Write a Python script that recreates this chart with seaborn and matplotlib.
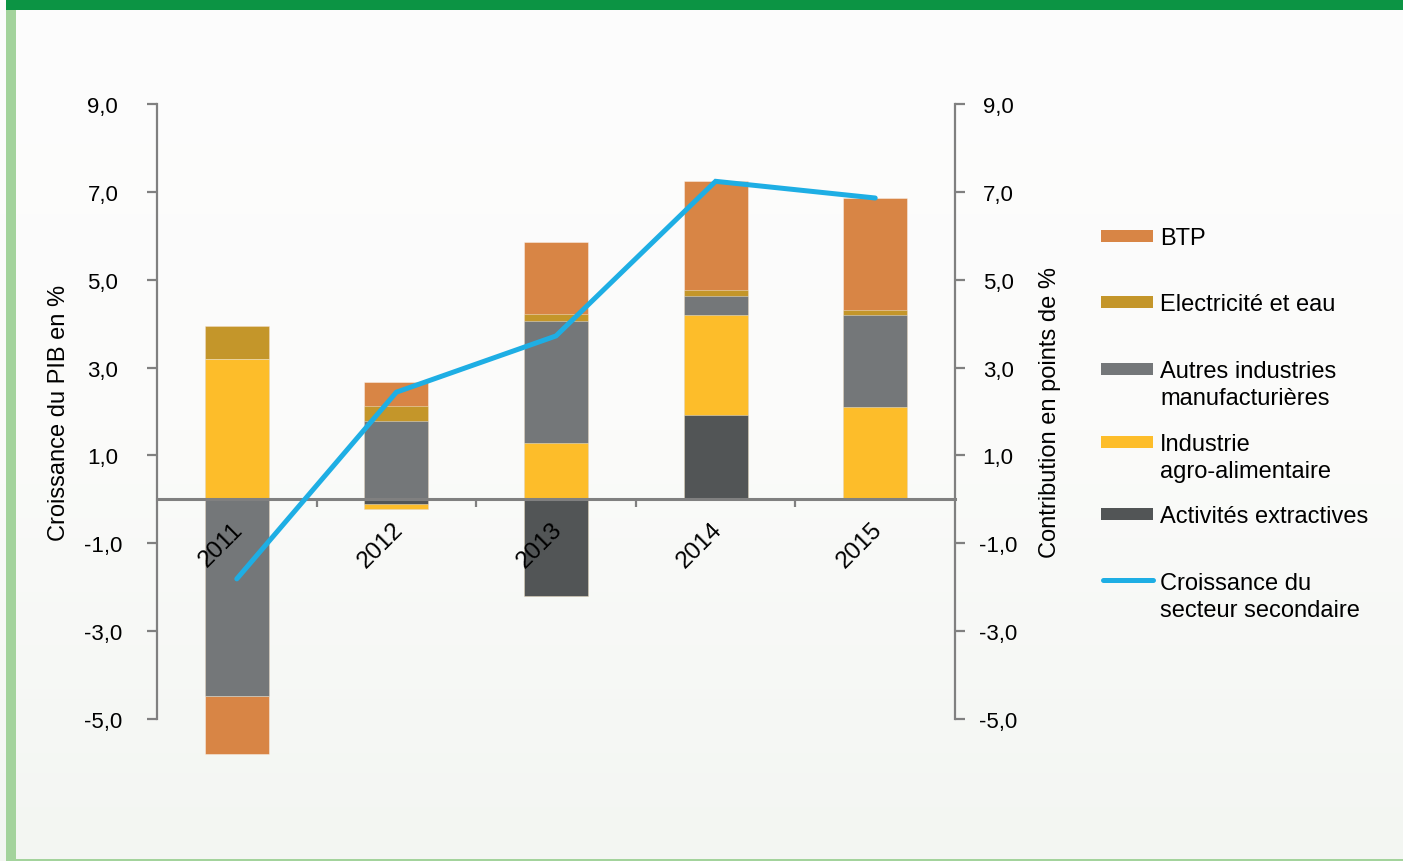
import numpy as np
import pandas as pd
import matplotlib
matplotlib.use("Agg")
import matplotlib.pyplot as plt
import seaborn as sns
from matplotlib.patches import Rectangle
from matplotlib.lines import Line2D
from matplotlib.ticker import FuncFormatter, FixedLocator
from matplotlib.colors import LinearSegmentedColormap

# ---------------- data ----------------
years = ["2011", "2012", "2013", "2014", "2015"]
extractives = [0.00, -0.10, -2.20, 1.92, 0.00]
agro = [3.20, -0.13, 1.29, 2.28, 2.10]
autres = [-4.47, 1.78, 2.78, 0.43, 2.10]
electricite = [0.75, 0.35, 0.14, 0.14, 0.12]
btp = [-1.33, 0.54, 1.65, 2.48, 2.53]
croissance = [-1.81, 2.44, 3.72, 7.24, 6.86]

series_labels = ["Activités extractives", "Industrie\nagro-alimentaire",
                 "Autres industries\nmanufacturières", "Electricité et eau", "BTP"]
line_label = "Croissance du\nsecteur secondaire"
yticks = [9.0, 7.0, 5.0, 3.0, 1.0, -1.0, -3.0, -5.0]
left_title = "Croissance du PIB en %"
right_title = "Contribution en points de %"

# ---------------- style ----------------
series_colors = ["#525556", "#FDBD2A", "#747779", "#C4962A", "#D88545"]
line_color = "#1EAEE4"
axis_gray = "#808080"

sns.set_theme(style="white")
plt.rcParams['font.family'] = ['Liberation Sans', 'DejaVu Sans']

W, H = 1403, 862
fig = plt.figure(figsize=(W / 100, H / 100), dpi=100)
fig.patch.set_facecolor("#F9FAF8")

# background gradient
bg = fig.add_axes([0, 0, 1, 1], zorder=-10)
grad = np.linspace(0, 1, 256).reshape(-1, 1)
cmap = LinearSegmentedColormap.from_list("bg", ["#FDFDFD", "#FBFBFA", "#F3F6F2"])
bg.imshow(grad, aspect="auto", cmap=cmap, extent=[0, 1, 0, 1], origin="upper")
bg.axis("off")

# frame decorations
fig.add_artist(Rectangle((6 / W, 1 - 11 / H), 1, 11 / H, transform=fig.transFigure,
                         color="#0C9444", lw=0))
fig.add_artist(Rectangle((6 / W, 0), 10 / W, 1 - 11 / H, transform=fig.transFigure,
                         color="#A3D39C", lw=0))
fig.add_artist(Rectangle((6 / W, 0), 1, 2 / H, transform=fig.transFigure,
                         color="#A3D39C", lw=0))

ax = fig.add_axes([157 / W, 142 / H, 798 / W, 615 / H])
ax.patch.set_alpha(0)

# stacked bars (Excel-like: positive and negative stacks separately)
stack = np.array([extractives, agro, autres, electricite, btp])
pos = np.clip(stack, 0, None).cumsum(axis=0)
neg = np.clip(stack, None, 0).cumsum(axis=0)
for i in reversed(range(len(stack))):
    for cum in (pos[i], neg[i]):
        df = pd.DataFrame({"annee": years, "val": cum})
        sns.barplot(data=df, x="annee", y="val", order=years, color=series_colors[i],
                    saturation=1, width=0.4, errorbar=None, ax=ax,
                    edgecolor=(1, 1, 1, 0.45), linewidth=0.6, clip_on=False)

# line
sns.lineplot(x=np.arange(len(years)), y=croissance, color=line_color, linewidth=3.6,
             ax=ax, sort=False, zorder=6, solid_capstyle="round", solid_joinstyle="miter")

ax.set_xlim(-0.5, 4.5)
ax.set_ylim(-5, 9)
ax.set_xlabel("")
ax.set_ylabel("")
ax.set_xticks([])
ax.set_xticks([0.5, 1.5, 2.5, 3.5], minor=True)
ax.tick_params(axis="x", which="minor", bottom=True, direction="out", length=6,
               width=1.6, color=axis_gray)

fmt = FuncFormatter(lambda v, p: f"{v:.1f}".replace(".", ","))
ax.yaxis.set_major_locator(FixedLocator(yticks))
ax.yaxis.set_major_formatter(fmt)
ax.tick_params(axis="y", which="major", left=True, direction="out", length=7,
               width=1.6, color=axis_gray, labelsize=16, pad=32, labelcolor="black")
for t in ax.get_yticklabels():
    t.set_horizontalalignment("center")

for s in ["top", "right"]:
    ax.spines[s].set_visible(False)
ax.spines["left"].set_color(axis_gray)
ax.spines["left"].set_linewidth(1.6)
ax.spines["bottom"].set_position(("data", 0))
ax.spines["bottom"].set_color(axis_gray)
ax.spines["bottom"].set_linewidth(2.2)
ax.spines["bottom"].set_zorder(3)

# year labels
for i, yr in enumerate(years):
    ax.text(i - 0.1, -1.02, yr, rotation=45, ha="center", va="center",
            fontsize=17.5, color="black", zorder=7)

# right axis
ax2 = ax.twinx()
ax2.patch.set_alpha(0)
ax2.set_ylim(-5, 9)
ax2.yaxis.set_major_locator(FixedLocator(yticks))
ax2.yaxis.set_major_formatter(fmt)
ax2.tick_params(axis="y", which="major", right=True, direction="out", length=7,
                width=1.6, color=axis_gray, labelsize=16, pad=24, labelcolor="black")
for t in ax2.get_yticklabels():
    t.set_horizontalalignment("center")
for s in ["top", "left", "bottom"]:
    ax2.spines[s].set_visible(False)
ax2.spines["right"].set_color(axis_gray)
ax2.spines["right"].set_linewidth(1.6)
ax2.grid(False)
ax.grid(False)

# axis titles
fig.text(59 / W, 1 - 413 / H, left_title, rotation=90, ha="center", va="center",
         fontsize=17, color="black")
fig.text(1050 / W, 1 - 413 / H, right_title, rotation=90, ha="center", va="center",
         fontsize=17, color="black")

# manual legend (patch aligned with first text line)
legend_rows = [(4, 237), (3, 303), (2, 370), (1, 443), (0, 515)]
for idx, yc in legend_rows:
    fig.add_artist(Rectangle((1101 / W, 1 - (yc + 6) / H), 52 / W, 12 / H,
                             transform=fig.transFigure, color=series_colors[idx], lw=0))
    for k, line in enumerate(series_labels[idx].split("\n")):
        fig.text(1160 / W, 1 - (yc + 8 + 27 * k) / H, line, ha="left", va="baseline",
                 fontsize=17, color="black")
yc = 581
fig.add_artist(Line2D([1103 / W, 1153 / W], [1 - yc / H, 1 - yc / H],
                      transform=fig.transFigure, color=line_color, lw=3.6,
                      solid_capstyle="round"))
for k, line in enumerate(line_label.split("\n")):
    fig.text(1160 / W, 1 - (yc + 9 + 27 * k) / H, line, ha="left", va="baseline",
             fontsize=17, color="black")

fig.savefig("out.png", dpi=100, facecolor=fig.get_facecolor())
